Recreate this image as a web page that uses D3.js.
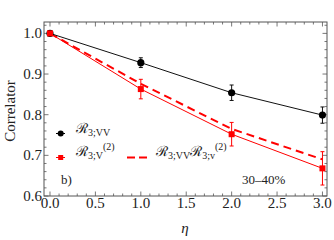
<!DOCTYPE html>
<head>
  <meta charset="utf-8">
  <script src="https://d3js.org/d3.v7.min.js"></script>
  <style>
    body { margin: 0; background: white; }
    svg text { font-family: "Liberation Serif", "DejaVu Serif", serif; fill: #222; }
    .frame { fill: none; stroke: #555; stroke-width: 1; }
    .tick-line { stroke: #555; stroke-width: 0.8; }
    .script { font-family: "DejaVu Serif", serif; font-style: normal; }
  </style>
</head>
<body>
  <script>
    var etas = [0, 1, 2, 3];
    var vvValues = [1.0, 0.928, 0.854, 0.799];
    var vvErrors = [0, 0.012, 0.019, 0.02];
    var v2Values = [1.0, 0.863, 0.752, 0.668];
    var v2Errors = [0, 0.024, 0.029, 0.041];
    var prodValues = [1.0, 0.876, 0.765, 0.69];
    var xTicks = [0, 0.5, 1, 1.5, 2, 2.5, 3];
    var yTicks = [0.6, 0.7, 0.8, 0.9, 1.0];

    var W = 334, H = 240;
    var margin = {top: 22, right: 7, bottom: 44, left: 44};
    var width = W - margin.left - margin.right,
        height = H - margin.top - margin.bottom;

    var svg = d3.select("body").append("svg")
      .attr("width", W)
      .attr("height", H);

    var g = svg.append("g")
      .attr("transform", "translate(" + margin.left + "," + margin.top + ")");

    var x = d3.scaleLinear().domain([-0.066, 3.05]).range([0, width]);
    var y = d3.scaleLinear().domain([0.6, 1.028]).range([height, 0]);

    g.append("rect").attr("class", "frame")
      .attr("width", width).attr("height", height);

    // ticks on all four sides, pointing inward
    var xMinor = d3.range(0, 31).map(d => d / 10);
    var yMinor = d3.range(30, 52).map(d => d / 50);
    function isMajor(v, step) { return Math.abs(v / step - Math.round(v / step)) < 1e-6; }

    xMinor.forEach(function(v) {
      var len = isMajor(v, 0.5) ? 4.5 : 2.5;
      g.append("line").attr("class", "tick-line")
        .attr("x1", x(v)).attr("x2", x(v)).attr("y1", height).attr("y2", height - len);
      g.append("line").attr("class", "tick-line")
        .attr("x1", x(v)).attr("x2", x(v)).attr("y1", 0).attr("y2", len);
    });
    yMinor.forEach(function(v) {
      if (y(v) < 0) return;
      var len = isMajor(v, 0.1) ? 4.5 : 2.5;
      g.append("line").attr("class", "tick-line")
        .attr("y1", y(v)).attr("y2", y(v)).attr("x1", 0).attr("x2", len);
      g.append("line").attr("class", "tick-line")
        .attr("y1", y(v)).attr("y2", y(v)).attr("x1", width).attr("x2", width - len);
    });

    g.selectAll(".xlab").data(xTicks).enter().append("text")
      .attr("x", d => x(d)).attr("y", height + 12)
      .attr("text-anchor", "middle").style("font-size", "15px")
      .text(d => d.toFixed(1));
    g.selectAll(".ylab").data(yTicks).enter().append("text")
      .attr("x", -2).attr("y", d => y(d) + 5)
      .attr("text-anchor", "end").style("font-size", "15px")
      .text(d => d.toFixed(1));

    svg.append("text")
      .attr("x", 185).attr("y", 233).attr("text-anchor", "middle")
      .style("font-size", "15px").style("font-style", "italic")
      .text("η");
    svg.append("text")
      .attr("transform", "translate(15," + (margin.top + height / 2 + 2) + ") rotate(-90)")
      .attr("text-anchor", "middle").style("font-size", "15px")
      .text("Correlator");

    var line = d3.line().x((d, i) => x(etas[i])).y(d => y(d));

    g.append("path").datum(prodValues).attr("d", line)
      .attr("fill", "none").attr("stroke", "#f00").attr("stroke-width", 2)
      .attr("stroke-dasharray", "8,5");
    g.append("path").datum(vvValues).attr("d", line)
      .attr("fill", "none").attr("stroke", "#111").attr("stroke-width", 1);
    g.append("path").datum(v2Values).attr("d", line)
      .attr("fill", "none").attr("stroke", "#f00").attr("stroke-width", 1);

    function errorBars(vals, errs, colour) {
      vals.forEach(function(v, i) {
        if (!errs[i]) return;
        var cx = x(etas[i]);
        g.append("line").attr("x1", cx).attr("x2", cx)
          .attr("y1", y(v - errs[i])).attr("y2", y(v + errs[i]))
          .attr("stroke", colour).attr("stroke-width", 1);
        [v - errs[i], v + errs[i]].forEach(function(e) {
          g.append("line").attr("x1", cx - 2).attr("x2", cx + 2)
            .attr("y1", y(e)).attr("y2", y(e))
            .attr("stroke", colour).attr("stroke-width", 1);
        });
      });
    }
    errorBars(vvValues, vvErrors, "#111");
    errorBars(v2Values, v2Errors, "#f00");

    g.selectAll(".vv").data(vvValues).enter().append("circle")
      .attr("cx", (d, i) => x(etas[i])).attr("cy", d => y(d))
      .attr("r", 3.6).attr("fill", "#000");
    g.selectAll(".v2").data(v2Values).enter().append("rect")
      .attr("x", (d, i) => x(etas[i]) - 3).attr("y", d => y(d) - 3)
      .attr("width", 6).attr("height", 6).attr("fill", "#f00");

    // legend
    var lg = svg.append("g");
    lg.append("line").attr("x1", 56).attr("x2", 65).attr("y1", 133.5).attr("y2", 133.5)
      .attr("stroke", "#000");
    lg.append("circle").attr("cx", 60.7).attr("cy", 133.5).attr("r", 3).attr("fill", "#000");
    lg.append("line").attr("x1", 56).attr("x2", 65).attr("y1", 157.5).attr("y2", 157.5)
      .attr("stroke", "#f00");
    lg.append("rect").attr("x", 58.2).attr("y", 155).attr("width", 5).attr("height", 5).attr("fill", "#f00");
    lg.append("line").attr("x1", 127).attr("x2", 147).attr("y1", 157.5).attr("y2", 157.5)
      .attr("stroke", "#f00").attr("stroke-width", 2).attr("stroke-dasharray", "8,4");

    function scriptR(t, dy) {
      var s = t.append("tspan").attr("class", "script").style("font-size", "14px").text("ℛ");
      if (dy) s.attr("dy", dy);
    }
    var t1 = lg.append("text").attr("x", 76).attr("y", 133);
    scriptR(t1);
    t1.append("tspan").style("font-size", "10px").attr("dy", 3).text("3;VV");

    var t2 = lg.append("text").attr("x", 76).attr("y", 156);
    scriptR(t2);
    t2.append("tspan").style("font-size", "10px").attr("dy", 3).text("3;V");
    t2.append("tspan").style("font-size", "10px").attr("dy", -9).text("(2)");

    var t3 = lg.append("text").attr("x", 156).attr("y", 156);
    scriptR(t3);
    t3.append("tspan").style("font-size", "10px").attr("dy", 3).text("3;VV");
    scriptR(t3, -3);
    t3.append("tspan").style("font-size", "10px").attr("dy", 3).text("3;v");
    t3.append("tspan").style("font-size", "10px").attr("dy", -9).text("(2)");

    svg.append("text").attr("x", 61).attr("y", 184).style("font-size", "13px").text("b)");
    svg.append("text").attr("x", 242).attr("y", 184).style("font-size", "13px").text("30–40%");
  </script>
</body>
